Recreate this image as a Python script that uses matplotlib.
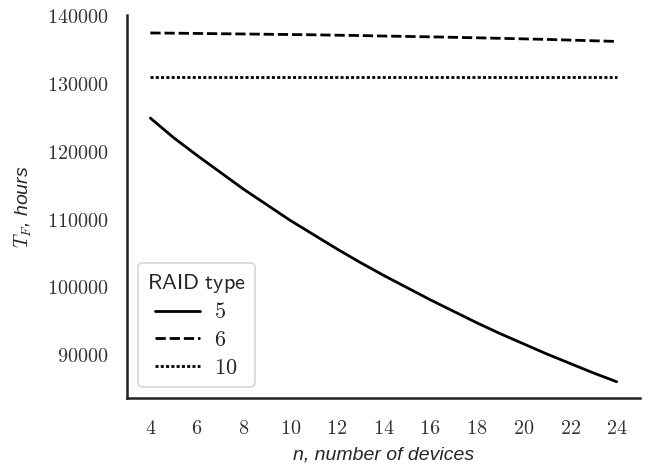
import matplotlib
matplotlib.use('Agg')
import matplotlib.pyplot as plt
import seaborn as sns

# number of devices
n_devices = list(range(4, 25))
# MTTF in hours
raid5 = [124900, 122000, 119400, 116900, 114400, 112100, 109800, 107700, 105600, 103600,
         101700, 99900, 98100, 96400, 94700, 93100, 91600, 90100, 88700, 87300, 86000]
raid6 = [137450, 137420, 137380, 137340, 137300, 137260, 137220, 137180, 137120, 137070,
         137000, 136940, 136880, 136810, 136740, 136660, 136580, 136500, 136400, 136300, 136200]
raid10 = [130950] * len(n_devices)
raid_labels = ['5', '6', '10']
x_ticks = list(range(4, 25, 2))
y_ticks = [90000, 100000, 110000, 120000, 130000, 140000]

sns.set_style('white')
plt.rcParams['mathtext.fontset'] = 'cm'

fig = plt.figure(figsize=(6.51, 4.66), dpi=100)
ax = fig.add_axes([0.1951, 0.1459, 0.9831 - 0.1951, 0.9678 - 0.1459])

styles = ['-', (0, (3.7, 1.4)), (0, (1.1, 0.8))]
for ys, ls, lab in zip([raid5, raid6, raid10], styles, raid_labels):
    ax.plot(n_devices, ys, color='black', linestyle=ls, linewidth=2, label=r'$\mathsf{%s}$' % lab)

ax.set_xlim(3, 25)
ax.set_ylim(83600, 140100)
ax.set_xticks(x_ticks)
ax.set_xticklabels([r'$%d$' % t for t in x_ticks], fontsize=14.5)
ax.set_yticks(y_ticks)
ax.set_yticklabels([r'$%d$' % t for t in y_ticks], fontsize=14.5)
ax.tick_params(axis='x', length=0, pad=15, labelcolor='#333333')
ax.tick_params(axis='y', length=0, pad=13.5, labelcolor='#333333')

sns.despine(ax=ax)
for side in ['left', 'bottom']:
    ax.spines[side].set_linewidth(1.8)
    ax.spines[side].set_color('#222222')

ax.set_xlabel('n, number of devices', fontsize=14, style='italic', family='Liberation Sans', labelpad=6)
ax.set_ylabel(r'$T_F$, hours', fontsize=14, style='italic', family='Liberation Sans', labelpad=9)

leg = ax.legend(title=r'$\mathsf{RAID\ type}$', loc='lower left', fontsize=16,
                title_fontsize=16, handlelength=2.0, handletextpad=0.65, frameon=True,
                fancybox=True, borderpad=0.4, labelspacing=0.35, borderaxespad=0.5)
leg.get_frame().set_edgecolor('#cccccc')
leg.get_frame().set_linewidth(1.2)

fig.savefig('out.png', dpi=100)
